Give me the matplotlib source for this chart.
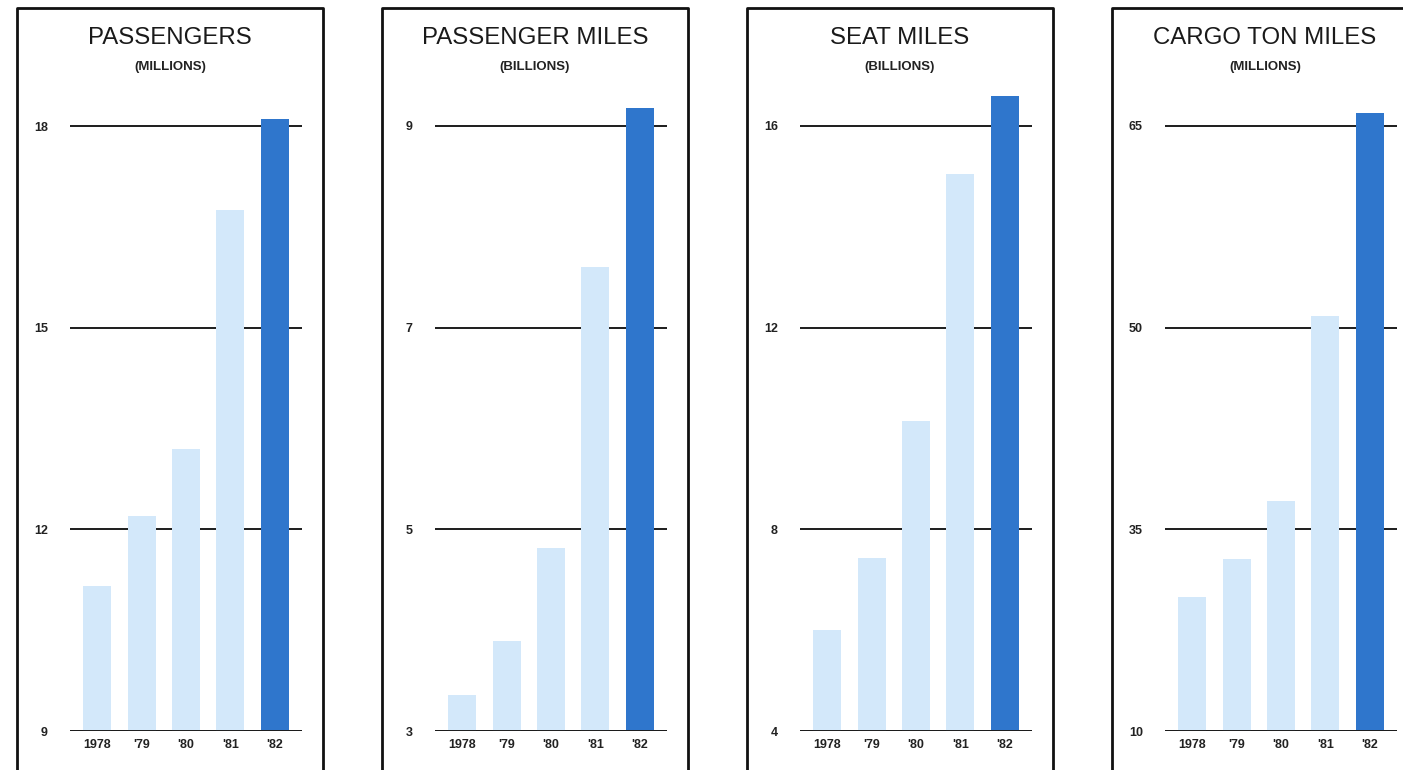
import matplotlib.pyplot as plt
from matplotlib.lines import Line2D

plt.rcParams['font.family'] = ['Liberation Sans', 'DejaVu Sans']

years = ['1978', "'79", "'80", "'81", "'82"]

titles = ['PASSENGERS', 'PASSENGER MILES', 'SEAT MILES', 'CARGO TON MILES']
units = ['(MILLIONS)', '(BILLIONS)', '(BILLIONS)', '(MILLIONS)']

passengers = [11.15, 12.2, 13.2, 16.75, 18.1]
passenger_miles = [3.36, 3.89, 4.81, 7.6, 9.18]
seat_miles = [6.0, 7.43, 10.15, 15.05, 16.6]
cargo_ton_miles = [30.0, 32.8, 37.1, 50.9, 66.0]

# tick positions and the labels printed beside them (cargo axis is broken at the bottom)
tick_pos = [[9, 12, 15, 18], [3, 5, 7, 9], [4, 8, 12, 16], [20, 35, 50, 65]]
tick_lbl = [['9', '12', '15', '18'], ['3', '5', '7', '9'],
            ['4', '8', '12', '16'], ['10', '35', '50', '65']]

series = [passengers, passenger_miles, seat_miles, cargo_ton_miles]

light = '#d3e8fa'
dark = '#2f76cc'
ink = '#222222'

W, H = 1403, 770
fig = plt.figure(figsize=(W / 100, H / 100), dpi=100)

for i in range(4):
    bx = 17 + i * 365
    # panel frame: left, top, right (bottom runs off the page)
    xs = [bx / W, bx / W, (bx + 306) / W, (bx + 306) / W]
    ys = [0, 1 - 8 / H, 1 - 8 / H, 0]
    fig.add_artist(Line2D(xs, ys, color='#111111', lw=2.0, transform=fig.transFigure))

    cx = (bx + 153) / W
    fig.text(cx, 1 - 38 / H, titles[i], ha='center', va='center', fontsize=17.3, color='#1a1a1a')
    fig.text(cx, 1 - 67 / H, units[i], ha='center', va='center', fontsize=9.5,
             fontweight='bold', color=ink)

    # axes box: gridline span 232px, from y=90 to baseline y=731
    ax = fig.add_axes([(bx + 53) / W, (H - 731) / H, 232 / W, (731 - 90) / H])
    lo, hi = tick_pos[i][0], tick_pos[i][-1]
    ax.set_ylim(lo, hi + (hi - lo) * 36 / 605)
    ax.set_xlim(-0.61, 4.61)

    for t in tick_pos[i]:
        ax.axhline(t, color='#1c1c1c', lw=1.4, zorder=1)

    colors = [light] * 4 + [dark]
    ax.bar(range(5), [v - lo for v in series[i]], bottom=lo, width=0.63,
           color=colors, zorder=2)
    ax.axhline(lo, color='#1c1c1c', lw=1.4, zorder=3)

    ax.set_yticks(tick_pos[i])
    ax.set_yticklabels(tick_lbl[i], fontsize=9, fontweight='bold', color=ink)
    ax.set_xticks(range(5))
    ax.set_xticklabels(years, fontsize=9, fontweight='bold', color=ink)
    ax.tick_params(axis='y', length=0, pad=16)
    ax.tick_params(axis='x', length=0, pad=6)
    for s in ax.spines.values():
        s.set_visible(False)
    ax.patch.set_alpha(0)

plt.savefig('out.png', dpi=100)
